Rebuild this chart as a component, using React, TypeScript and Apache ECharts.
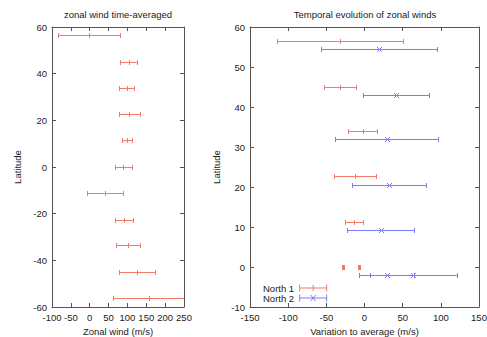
import React, { useEffect, useRef } from "react";
import * as echarts from "echarts";

// Left panel: time-averaged zonal wind
const leftLat = [56.7, 45, 34, 22.8, 11.5, 0, -11, -22.5, -33.5, -45, -56];
const leftWind = [-3, 103, 98, 105, 98, 89, 40, 91, 101, 125, 157];
const leftErr = [82, 22, 19.5, 28, 13, 22, 48, 24, 32, 47, 94];

// Right panel: temporal evolution
const north1Lat = [56.4, 45, 34, 22.7, 11.3, 0, 0];
const north1Var = [-32, -32, -2.5, -12.5, -14, -28.5, -7];
const north1Err = [82.5, 21, 19.5, 27, 12, 1.5, 1.5];
const north2Lat = [54.5, 43.1, 31.9, 20.5, 9.3, -2.1, -2.1];
const north2Var = [19, 41, 29, 32, 21, 29, 64];
const north2Err = [76, 43, 67, 49, 44, 36, 57];

const leftXTicks = { min: -100, max: 250, interval: 50 };
const leftYTicks = { min: -60, max: 60, interval: 20 };
const rightXTicks = { min: -150, max: 150, interval: 50 };
const rightYTicks = { min: -10, max: 60, interval: 10 };

const RED = "#f27a6a";
const BLUE = "#7c7cf6";
const AXIS = "#555";
const TEXT = "#222";
const FONT = "'Liberation Sans', Arial, Helvetica, sans-serif";

function build(lat: number[], val: number[], err: number[]) {
  return lat.map((y, i) => [val[i] - err[i], val[i] + err[i], val[i], y]);
}

function makeRender(marker: "plus" | "cross", color: string) {
  return (params: any, api: any) => {
    const y = api.value(3);
    const lo = api.coord([api.value(0), y]);
    const hi = api.coord([api.value(1), y]);
    const c = api.coord([api.value(2), y]);
    const yy = Math.round(lo[1]) + 0.5;
    const x0 = Math.round(lo[0]) + 0.5;
    const x1 = Math.round(hi[0]) + 0.5;
    const xc = Math.round(c[0]) + 0.5;
    const cap = 2.5;
    const style = { stroke: color, lineWidth: 1, fill: "none" };
    const children: any[] = [
      { type: "line", shape: { x1: x0, y1: yy, x2: x1, y2: yy }, style },
      { type: "line", shape: { x1: x0, y1: yy - cap, x2: x0, y2: yy + cap }, style },
      { type: "line", shape: { x1: x1, y1: yy - cap, x2: x1, y2: yy + cap }, style },
    ];
    if (marker === "plus") {
      children.push({ type: "line", shape: { x1: xc, y1: yy - cap, x2: xc, y2: yy + cap }, style });
    } else {
      children.push({ type: "line", shape: { x1: xc - cap, y1: yy - cap, x2: xc + cap, y2: yy + cap }, style });
      children.push({ type: "line", shape: { x1: xc - cap, y1: yy + cap, x2: xc + cap, y2: yy - cap }, style });
    }
    return { type: "group", children };
  };
}

function axisCommon(t: { min: number; max: number; interval: number }, labels: boolean) {
  return {
    type: "value",
    min: t.min,
    max: t.max,
    interval: t.interval,
    splitLine: { show: false },
    axisLine: { show: true, onZero: false, lineStyle: { color: AXIS, width: 1 } },
    axisTick: { show: true, inside: true, length: 4, lineStyle: { color: AXIS } },
    axisLabel: labels
      ? { show: true, color: TEXT, fontSize: 9.5, fontFamily: FONT, margin: 5 }
      : { show: false },
  };
}

export default function App() {
  const ref = useRef<HTMLDivElement>(null);
  useEffect(() => {
    if (!ref.current) return;
    const chart = echarts.init(ref.current, null, { renderer: "svg" });
    const nameStyle = { color: TEXT, fontSize: 9.5, fontFamily: FONT };
    const redIcon =
      "path://M0,3h28v1H0z M0,0h1v7H0z M27,0h1v7h-1z M13.5,0.5h1v6h-1z";
    const blueIcon =
      "path://M0,3h28v1H0z M0,0h1v7H0z M27,0h1v7h-1z M11,0.5h1l5,6h-1z M16,0.5h1l-5,6h-1z";
    chart.setOption({
      animation: false,
      backgroundColor: "#fff",
      textStyle: { fontFamily: FONT },
      title: [
        {
          text: "zonal wind time-averaged",
          left: 118,
          top: 9,
          padding: 0,
          textAlign: "center",
          textStyle: { color: TEXT, fontSize: 9.5, fontWeight: "normal", fontFamily: FONT },
        },
        {
          text: "Temporal evolution of zonal winds",
          left: 365,
          top: 9,
          padding: 0,
          textAlign: "center",
          textStyle: { color: TEXT, fontSize: 9.5, fontWeight: "normal", fontFamily: FONT },
        },
      ],
      grid: [
        { left: 52, top: 27, width: 132, height: 280, outerBoundsMode: "none", containLabel: false },
        { left: 250, top: 27, width: 229, height: 280, outerBoundsMode: "none", containLabel: false },
      ],
      legend: {
        orient: "vertical",
        left: 263,
        top: 283,
        padding: 0,
        align: "right",
        itemWidth: 28,
        itemHeight: 7,
        itemGap: 0,
        textStyle: { color: TEXT, fontSize: 9.5, fontFamily: FONT, lineHeight: 9 },
        data: [
          { name: "North 1", icon: redIcon },
          { name: "North 2", icon: blueIcon },
        ],
      },
      xAxis: [
        {
          ...axisCommon(leftXTicks, true),
          gridIndex: 0,
          position: "bottom",
          name: "Zonal wind (m/s)",
          nameLocation: "middle",
          nameGap: 19,
          nameTextStyle: nameStyle,
        },
        { ...axisCommon(leftXTicks, false), gridIndex: 0, position: "top" },
        {
          ...axisCommon(rightXTicks, true),
          gridIndex: 1,
          position: "bottom",
          name: "Variation to average (m/s)",
          nameLocation: "middle",
          nameGap: 19,
          nameTextStyle: nameStyle,
        },
        { ...axisCommon(rightXTicks, false), gridIndex: 1, position: "top" },
      ],
      yAxis: [
        {
          ...axisCommon(leftYTicks, true),
          gridIndex: 0,
          position: "left",
          name: "Latitude",
          nameLocation: "middle",
          nameGap: 30,
          nameTextStyle: nameStyle,
        },
        { ...axisCommon(leftYTicks, false), gridIndex: 0, position: "right" },
        {
          ...axisCommon(rightYTicks, true),
          gridIndex: 1,
          position: "left",
          name: "Latitude",
          nameLocation: "middle",
          nameGap: 29,
          nameTextStyle: nameStyle,
        },
        { ...axisCommon(rightYTicks, false), gridIndex: 1, position: "right" },
      ],
      series: [
        {
          type: "custom",
          name: "Time-averaged",
          xAxisIndex: 0,
          yAxisIndex: 0,
          clip: true,
          itemStyle: { color: RED },
          renderItem: makeRender("plus", RED),
          encode: { x: [0, 1, 2], y: 3 },
          data: build(leftLat, leftWind, leftErr),
        },
        {
          type: "custom",
          name: "North 1",
          xAxisIndex: 2,
          yAxisIndex: 2,
          clip: true,
          itemStyle: { color: RED },
          renderItem: makeRender("plus", RED),
          encode: { x: [0, 1, 2], y: 3 },
          data: build(north1Lat, north1Var, north1Err),
        },
        {
          type: "custom",
          name: "North 2",
          xAxisIndex: 2,
          yAxisIndex: 2,
          clip: true,
          itemStyle: { color: BLUE },
          renderItem: makeRender("cross", BLUE),
          encode: { x: [0, 1, 2], y: 3 },
          data: build(north2Lat, north2Var, north2Err),
        },
      ],
    });
    return () => chart.dispose();
  }, []);
  return <div ref={ref} style={{ width: 487, height: 337, position: "absolute", left: 0, top: 0 }} />;
}
